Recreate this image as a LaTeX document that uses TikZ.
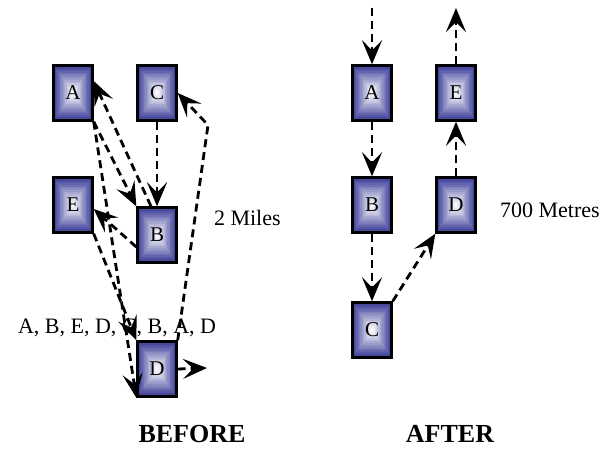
\documentclass[tikz,border=0pt]{standalone}
\usepackage{fontspec}
\setmainfont{Liberation Serif}
\usetikzlibrary{arrows.meta, calc}
\definecolor{boxblue}{RGB}{55,58,150}

\begin{document}
\begin{tikzpicture}[x=0.5pt, y=-0.5pt,
    every node/.style={font=\fontsize{11}{13}\selectfont},
    town/.style={draw, line width=1.2pt, minimum width=19.5pt, minimum height=27.5pt, inner sep=0pt,
      font=\fontsize{10.5}{12}\selectfont,
      path picture={
        \foreach \k [evaluate=\k as \p using int(\k*7)] in {0,...,14}
          \fill[white!\p!boxblue] ($(path picture bounding box.south west)+(\k*0.65pt,\k*0.9pt)$)
            rectangle ($(path picture bounding box.north east)-(\k*0.65pt,\k*0.9pt)$);
      }},
    leg/.style={line width=1.4pt, dash pattern=on 4pt off 2.5pt,
      -{Stealth[length=12pt, width=10pt, inset=5pt]}},
    caption/.style={font=\fontsize{13}{15}\selectfont\bfseries}]
  \useasboundingbox (0, 0) rectangle (603, 449);
  \node[town] (bA) at (73, 93) {A};
  \node[town] (bC) at (157, 93) {C};
  \node[town] (bE) at (73, 205) {E};
  \node[town] (bB) at (157, 235) {B};
  \node[town] (bD) at (157, 369) {D};
  \coordinate (turn) at (208, 125);
  \coordinate (exit) at (207, 368);
  \draw[leg] (bA.south east) -- (bB.north west);
  \draw[leg] ([yshift=-6pt]bB.west) -- ([yshift=-2pt]bE.east);
  \draw[leg] (bE.south east) -- (bD.north west);
  \draw[leg] (bD.north east) -- (turn) -- (bC.east);
  \draw[leg] (bC.south) -- (bB.north);
  \draw[leg] ([xshift=-3pt]bB.north) -- ([yshift=6pt]bA.east);
  \draw[leg] (bA.south east) -- (bD.south west);
  \draw[leg] (bD.east) -- (exit);
  \node[anchor=west] (miles) at (207, 218) {2 Miles};
  \node[anchor=west] (order) at (11, 328) {A, B, E, D, C, B, A, D};
  \node[caption] (before) at (192, 434) {BEFORE};

  \node[town] (aA) at (372, 93) {A};
  \node[town] (aE) at (456, 93) {E};
  \node[town] (aB) at (372, 205) {B};
  \node[town] (aD) at (456, 205) {D};
  \node[town] (aC) at (372, 330) {C};
  \coordinate (entry) at (372, 8);
  \coordinate (leave) at (456, 8);
  \draw[leg] (entry) -- (aA.north);
  \draw[leg] (aA.south) -- (aB.north);
  \draw[leg] (aB.south) -- (aC.north);
  \draw[leg] (aC.north east) -- (aD.south west);
  \draw[leg] (aD.north) -- (aE.south);
  \draw[leg] (aE.north) -- (leave);
  \node[anchor=west] (metres) at (493, 210) {700 Metres};
  \node[caption] (after) at (450, 434) {AFTER};
\end{tikzpicture}
\end{document}
